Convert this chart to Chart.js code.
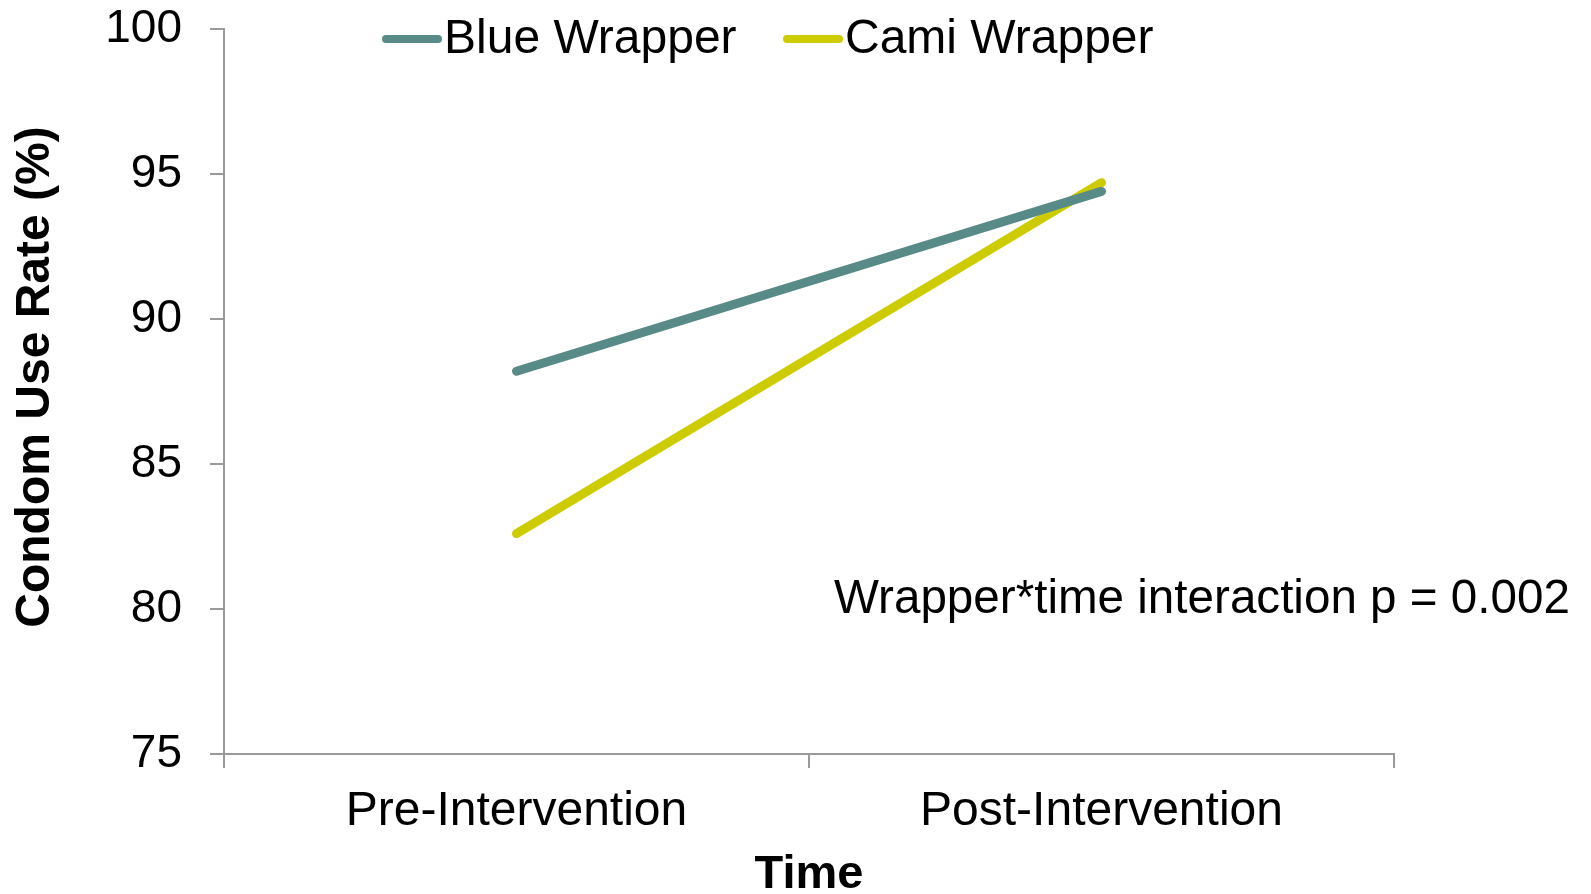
<!DOCTYPE html>
<html>
<head>
<meta charset="utf-8">
<title>Condom Use Rate</title>
<script src="https://cdn.jsdelivr.net/npm/chart.js@4"></script>
<style>
  html, body { margin: 0; padding: 0; background: #fff; }
  #wrap { width: 1591px; height: 894px; }
</style>
</head>
<body>
<div id="wrap"><canvas id="lineChart"></canvas></div>
<script>
const categories = ['Pre-Intervention', 'Post-Intervention'];
const blueWrapper = [88.2, 94.4];
const camiWrapper = [82.6, 94.7];
const seriesNames = ['Blue Wrapper', 'Cami Wrapper'];
const yTicks = [75, 80, 85, 90, 95, 100];
const yTitle = 'Condom Use Rate (%)';
const noteText = 'Wrapper*time interaction p = 0.002';

const FONT = '"Liberation Sans", Arial, sans-serif';
const AXIS_GREY = '#9a9a9a';

// legend, y title and p-value note drawn on top of the plot
const overlayText = {
    id: 'overlayText',
    afterDraw(chart) {
        const ctx = chart.ctx;
        ctx.save();
        ctx.font = '48px ' + FONT;
        ctx.textBaseline = 'middle';
        ctx.fillStyle = '#000';
        const legendY = 39;
        const items = [{ x: 386 }, { x: 787 }];
        chart.data.datasets.forEach((ds, i) => {
            const x = items[i].x;
            ctx.strokeStyle = ds.borderColor;
            ctx.lineWidth = 8;
            ctx.lineCap = 'round';
            ctx.beginPath();
            ctx.moveTo(x, legendY);
            ctx.lineTo(x + 52, legendY);
            ctx.stroke();
            ctx.fillText(ds.label, x + 58, legendY + 1);
        });
        ctx.font = '47.6px ' + FONT;
        ctx.fillText(noteText, 834, 600);

        // rotated axis title
        ctx.translate(36, 377);
        ctx.rotate(-Math.PI / 2);
        ctx.textAlign = 'center';
        ctx.font = 'bold 48px ' + FONT;
        ctx.fillText(yTitle, 0, 0);
        ctx.restore();
    }
};

new Chart(document.getElementById('lineChart').getContext('2d'), {
    type: 'line',
    data: {
        labels: categories,
        datasets: [{
            label: seriesNames[0],
            data: blueWrapper,
            borderColor: '#588a87',
            backgroundColor: '#588a87',
            borderWidth: 9,
            borderCapStyle: 'round',
            pointRadius: 0,
            fill: false
        }, {
            label: seriesNames[1],
            data: camiWrapper,
            borderColor: '#cccc00',
            backgroundColor: '#cccc00',
            borderWidth: 9,
            borderCapStyle: 'round',
            pointRadius: 0,
            fill: false
        }]
    },
    options: {
        responsive: true,
        maintainAspectRatio: false,
        animation: false,
        layout: { padding: { left: 0, top: 29, right: 197, bottom: 0 } },
        plugins: {
            legend: { display: false },
            tooltip: { enabled: false }
        },
        scales: {
            x: {
                offset: true,
                grid: {
                    offset: true,
                    drawOnChartArea: false,
                    drawTicks: true,
                    tickLength: 14,
                    color: AXIS_GREY,
                    lineWidth: 2
                },
                border: { display: true, color: AXIS_GREY, width: 2 },
                ticks: {
                    color: '#000',
                    padding: 15,
                    font: { family: FONT, size: 48 },
                    maxRotation: 0
                },
                title: {
                    display: true,
                    text: 'Time',
                    color: '#000',
                    font: { family: FONT, size: 47, weight: 'bold', lineHeight: 0.8 },
                    padding: { top: 0, bottom: 0 }
                },
                afterFit(scale) {
                    scale.height = 140;
                    scale.paddingLeft = 0;
                    scale.paddingRight = 0;
                }
            },
            y: {
                min: 75,
                max: 100,
                afterBuildTicks(scale) { scale.ticks = yTicks.map(v => ({ value: v })); },
                grid: {
                    drawOnChartArea: false,
                    drawTicks: true,
                    tickLength: 14,
                    color: AXIS_GREY,
                    lineWidth: 2
                },
                border: { display: true, color: AXIS_GREY, width: 2 },
                ticks: {
                    color: '#000',
                    padding: 28,
                    font: { family: FONT, size: 46 }
                },
                title: { display: false },
                afterFit(scale) {
                    scale.width = 224;
                    scale.paddingTop = 0;
                    scale.paddingBottom = 0;
                }
            }
        }
    },
    plugins: [overlayText]
});
</script>
</body>
</html>
